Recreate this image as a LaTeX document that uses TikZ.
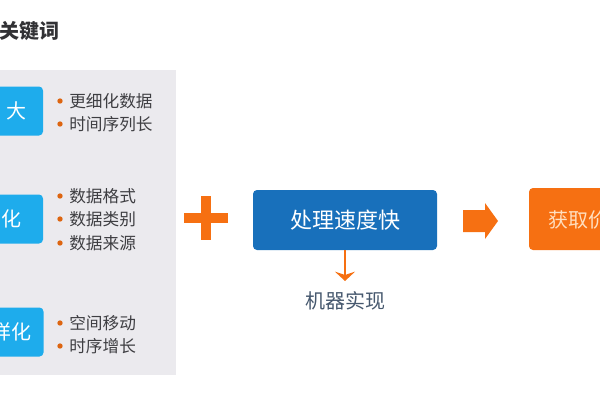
\documentclass[tikz,border=0pt]{standalone}
\usepackage{fontspec}
\usepackage{tikz}
\usetikzlibrary{positioning,arrows.meta}
\newfontfamily\cjk{Noto Sans CJK SC}

\definecolor{panelgray}{RGB}{235,234,238}
\definecolor{lightblue}{RGB}{30,172,236}
\definecolor{darkblue}{RGB}{24,112,187}
\definecolor{orangefill}{RGB}{246,112,18}
\definecolor{textgray}{RGB}{62,62,66}
\definecolor{notegray}{RGB}{70,88,110}

\tikzset{
  keybox/.style={fill=lightblue, rounded corners=3pt, text=white, font=\cjk\fontsize{15}{18}\selectfont, minimum height=36.75pt, inner sep=0pt},
  item/.style={anchor=west, text=textgray, font=\cjk\fontsize{12.5}{14}\selectfont, inner sep=0pt},
  dot/.style={circle, fill=orangefill!90!black, inner sep=0pt, minimum size=4pt},
}

\begin{document}
\begin{tikzpicture}[x=0.75pt,y=0.75pt,yscale=-1,xscale=1]
\useasboundingbox (0,0) rectangle (600,400);

% Title
\node[anchor=west, inner sep=0pt, text=textgray!80!black, font=\cjk\bfseries\fontsize{15}{18}\selectfont] (title) at (-1,31) {关键词};

%Shape: Rectangle (panel)
\fill[panelgray] (-10,70) rectangle (176,375);

% Key boxes
\node[keybox, minimum width=39pt] (kbig) at (17,111) {大};
\node[keybox, minimum width=46.5pt] (kvar) at (12,219) {化};
\node[keybox, minimum width=48pt] (kdyn) at (11.5,332) {样化};

% Items of first box
\node[dot] (d11) at (60,101) {};
\node[item] (i11) at (69,101) {更细化数据};
\node[dot] (d12) at (60,124) {};
\node[item] (i12) at (69,124) {时间序列长};

% Items of second box
\node[dot] (d21) at (60,196) {};
\node[item] (i21) at (69,196) {数据格式};
\node[dot] (d22) at (60,219) {};
\node[item] (i22) at (69,219) {数据类别};
\node[dot] (d23) at (60,243) {};
\node[item] (i23) at (69,243) {数据来源};

% Items of third box
\node[dot] (d31) at (60,323) {};
\node[item] (i31) at (69,323) {空间移动};
\node[dot] (d32) at (60,346) {};
\node[item] (i32) at (69,346) {时序增长};

%Shape: Plus
\fill[orangefill] (184,213) rectangle (228,223);
\fill[orangefill] (201,196) rectangle (211,240);

% Processing box
\node[fill=darkblue, rounded corners=3pt, minimum width=138pt, minimum height=45pt, inner sep=0pt, text=white, font=\cjk\fontsize{16.5}{20}\selectfont] (fast) at (345,220) {处理速度快};

% Note under the box
\node[text=notegray, font=\cjk\fontsize{15}{18}\selectfont, inner sep=0pt] (machine) at (345,301) {机器实现};
\coordinate (tip) at (345,281);
\draw[orangefill, line width=2.2, -{Stealth[length=7pt,width=15pt,inset=2.5pt]}] (fast.south) -- (tip);

%Shape: Right Arrow
\fill[orangefill] (463,210) -- (485,210) -- (485,203) -- (498,221) -- (485,239) -- (485,232) -- (463,232) -- cycle;

% Result box
\node[fill=orangefill, rounded corners=3pt, minimum width=90pt, minimum height=46.5pt, inner sep=0pt] (value) at (589,219) {};
\node[anchor=west, inner sep=0pt, text=orange!25!white, font=\cjk\fontsize{15}{18}\selectfont] (gain) at (548,220) {获取价值};

\end{tikzpicture}
\end{document}
